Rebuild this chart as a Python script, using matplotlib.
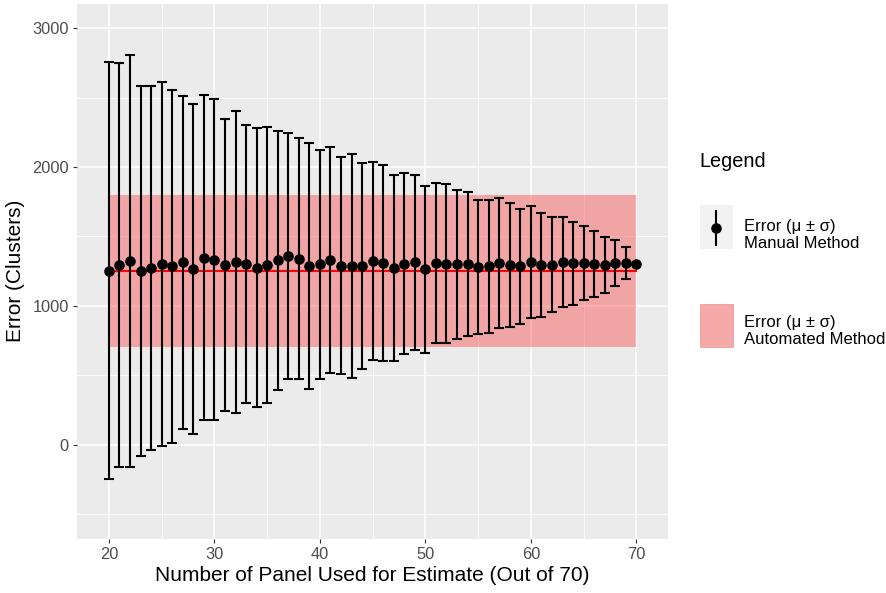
import matplotlib
matplotlib.use("Agg")
import matplotlib.pyplot as plt
from matplotlib.patches import Rectangle
from matplotlib.lines import Line2D
import numpy as np

plt.rcParams['font.family'] = ['Liberation Sans', 'DejaVu Sans']

# number of panels used for the estimate
panels = list(range(20, 71))

# manual method: mean error and standard deviation per panel count
manual_mean = [1253, 1294, 1323, 1253, 1270, 1304, 1285, 1314, 1268, 1347,
               1332, 1294, 1316, 1301, 1275, 1292, 1328, 1357, 1340, 1287,
               1299, 1330, 1289, 1285, 1287, 1323, 1309, 1270, 1304, 1313,
               1263, 1311, 1304, 1299, 1302, 1280, 1285, 1308, 1295, 1285,
               1317, 1295, 1295, 1318, 1306, 1310, 1302, 1296, 1310, 1311,
               1305]
manual_sd = [1503, 1454, 1487, 1334, 1313, 1312, 1271, 1201, 1189, 1173,
             1157, 1055, 1088, 1003, 1007, 995, 932, 887, 868, 889,
             824, 817, 784, 807, 745, 716, 704, 671, 653, 628,
             603, 577, 572, 536, 516, 483, 480, 469, 446, 413,
             403, 374, 343, 325, 301, 265, 237, 202, 164, 115,
             0]

# automated method: mean error and standard deviation
auto_mean = 1250
auto_sd = 550

W, H = 887, 593
fig = plt.figure(figsize=(W / 100, H / 100), dpi=100)

# panel in pixel coords
left, right, top, bottom = 77.3, 668.0, 3.5, 538.7
ax = fig.add_axes([left / W, 1 - bottom / H, (right - left) / W, (bottom - top) / H])

ax.set_facecolor('#EBEBEB')
for s in ax.spines.values():
    s.set_visible(False)

ax.set_xlim(17.0, 73.0)
ax.set_ylim(-679, 3180)
ax.set_xticks([20, 30, 40, 50, 60, 70])
ax.set_yticks([0, 1000, 2000, 3000])
ax.set_xticks([25, 35, 45, 55, 65], minor=True)
ax.set_yticks([-500, 500, 1500, 2500], minor=True)
ax.grid(which='major', color='white', lw=1.1)
ax.grid(which='minor', color='white', lw=0.55)
ax.set_axisbelow(True)
ax.tick_params(which='minor', length=0)
ax.tick_params(which='major', length=3, width=0.8, color='#333333',
               labelcolor='#4D4D4D', labelsize=11.8, pad=3)

# automated band and mean line
x = np.array(panels)
ax.fill_between([x.min(), x.max()], auto_mean - auto_sd, auto_mean + auto_sd,
                color='red', alpha=0.3, lw=0, zorder=2)
ax.plot([x.min(), x.max()], [auto_mean, auto_mean], color='red', lw=1.5, zorder=3)

# manual method error bars
ax.errorbar(panels, manual_mean, yerr=manual_sd, fmt='o', color='black',
            ms=6.6, elinewidth=1.5, capsize=3.3, capthick=1.5, zorder=4)

ax.set_xlabel('Number of Panel Used for Estimate (Out of 70)', fontsize=15, labelpad=3)
ax.set_ylabel('Error (Clusters)', fontsize=15, labelpad=5)

# legend drawn in pixel coords
leg = fig.add_axes([0, 0, 1, 1])
leg.set_xlim(0, W)
leg.set_ylim(H, 0)
leg.axis('off')
leg.patch.set_alpha(0)

leg.text(699, 167, 'Legend', fontsize=14.3, va='baseline', ha='left')

leg.add_patch(Rectangle((700, 205), 33, 44, facecolor='#F2F2F2', edgecolor='none'))
leg.add_line(Line2D([716.5, 716.5], [211, 245], color='black', lw=1.5))
leg.add_line(Line2D([716.5], [228], marker='o', ms=6.6, color='black'))
leg.text(744, 231, 'Error (\u03bc \u00b1 \u03c3)', fontsize=12, va='baseline')
leg.text(744, 248, 'Manual Method', fontsize=12, va='baseline')

leg.add_patch(Rectangle((700, 304), 33, 43, facecolor='#F6A9A9', edgecolor='#F29A9A', lw=0.6))
leg.text(744, 327, 'Error (\u03bc \u00b1 \u03c3)', fontsize=12, va='baseline')
leg.text(744, 344, 'Automated Method', fontsize=12, va='baseline')

fig.savefig('out.png', dpi=100, facecolor='white')
